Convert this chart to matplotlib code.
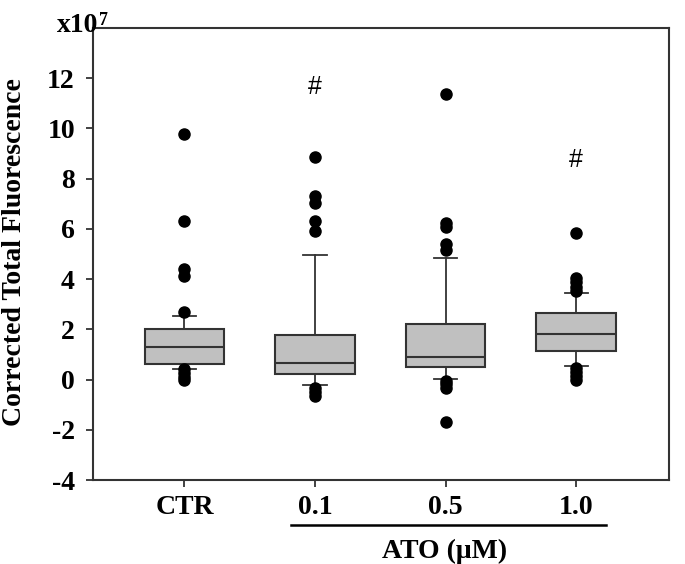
import matplotlib
matplotlib.use("Agg")
import matplotlib.pyplot as plt
from matplotlib.lines import Line2D

plt.rcParams['font.family'] = ['Liberation Serif', 'DejaVu Serif']
plt.rcParams['font.weight'] = 'bold'

categories = ["CTR", "0.1", "0.5", "1.0"]
q1 = [0.62, 0.22, 0.49, 1.13]
median = [1.31, 0.65, 0.91, 1.82]
q3 = [2.03, 1.76, 2.22, 2.64]
whisker_low = [0.41, -0.22, 0.02, 0.54]
whisker_high = [2.53, 4.95, 4.84, 3.44]
outliers = [
    [9.78, 6.33, 4.42, 4.13, 2.69, 0.42, 0.27, 0.12, 0.0],
    [8.86, 7.31, 7.02, 6.31, 5.91, -0.32, -0.5, -0.66],
    [11.38, 6.25, 6.09, 5.40, 5.14, -0.04, -0.18, -0.32, -1.68],
    [5.83, 4.05, 3.88, 3.70, 3.52, 0.48, 0.32, 0.16, 0.0],
]
significance = ["", "#", "", "#"]
sig_y = [None, 11.67, None, 8.75]
yticks = [-4, -2, 0, 2, 4, 6, 8, 10, 12]

W, H = 685, 564
fig = plt.figure(figsize=(W / 100, H / 100), dpi=100)
ax = fig.add_axes([93 / W, 1 - 480 / H, (669 - 93) / W, (480 - 28) / H])

positions = list(range(1, len(categories) + 1))
stats = []
for i in range(len(categories)):
    stats.append(dict(med=median[i], q1=q1[i], q3=q3[i],
                      whislo=whisker_low[i], whishi=whisker_high[i],
                      fliers=outliers[i], label=categories[i]))

ec = '#333333'
ax.bxp(stats, positions=positions, widths=0.61, capwidths=0.18,
       patch_artist=True, showfliers=True,
       boxprops=dict(facecolor='#c0c0c0', edgecolor=ec, linewidth=1.5),
       medianprops=dict(color=ec, linewidth=1.5),
       whiskerprops=dict(color=ec, linewidth=1.3),
       capprops=dict(color=ec, linewidth=1.3),
       flierprops=dict(marker='o', markerfacecolor='black', markeredgecolor='black',
                       markersize=8, linestyle='none'))

for p, s, y in zip(positions, significance, sig_y):
    if s:
        ax.text(p, y, s, ha='center', va='center', fontsize=18,
                fontweight='normal', family='Liberation Sans')

ax.set_xlim(0.30, 4.71)
ax.set_ylim(-4, 14)
ax.set_yticks(yticks)
ax.set_yticklabels([str(t) for t in yticks])
ax.set_xticks(positions)
ax.set_xticklabels(categories)
ax.tick_params(axis='both', direction='out', length=5, width=1.3,
               labelsize=20, color=ec)
ax.tick_params(axis='y', pad=8)
ax.tick_params(axis='x', pad=6)
for sp in ax.spines.values():
    sp.set_linewidth(1.5)
    sp.set_color(ec)

fig.text(15 / W, 1 - 252 / H, "Corrected Total Fluorescence", rotation=90,
         fontsize=20, fontweight='bold', ha='center', va='center')

t10 = fig.text(57 / W, 1 - 32 / H, "x10", fontsize=20, fontweight='bold',
               ha='left', va='baseline')
fig.canvas.draw()
bb = t10.get_window_extent()
fig.text((bb.x1 + 0.5) / W, 1 - 25 / H, "7", fontsize=13, fontweight='bold',
         ha='left', va='baseline')

# ATO bracket line below tick labels
line = Line2D([291 / W, 606 / W], [1 - 525 / H, 1 - 525 / H],
              transform=fig.transFigure, color='black', linewidth=1.8)
fig.add_artist(line)
fig.text(445 / W, 1 - 551 / H, "ATO (μM)", fontsize=20, fontweight='bold',
         ha='center', va='center')

fig.savefig("out.png", dpi=100)
